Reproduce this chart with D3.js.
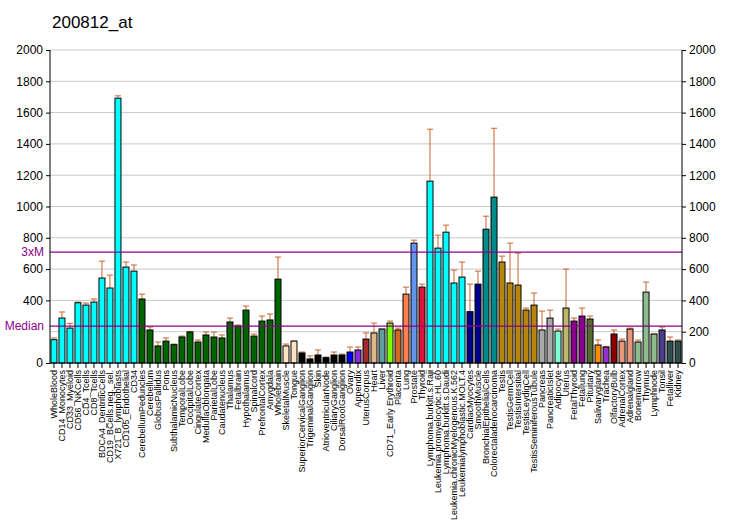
<!DOCTYPE html>
<html>
<head>
<meta charset="utf-8">
<script src="https://cdn.jsdelivr.net/npm/d3@7"></script>
<style>
  body { margin: 0; background: #fff; }
  text { font-family: "Liberation Sans", Arial, sans-serif; }
</style>
</head>
<body>
<div id="graph"></div>
<script>
// Tissue names, in the order they are plotted
const tissues = [
	'WholeBlood', 'CD14_Monocytes', 'CD33_Myeloid', 'CD56_NKCells', 'CD4_Tcells', 'CD8_Tcells',
	'BDCA4_DentriticCells', 'CD19_BCells.neg._sel.', 'X721_B_lymphoblasts', 'CD105_Endothelial', 'CD34',
	'CerebellumPeduncles', 'Cerebellum', 'GlobusPallidus', 'Pons', 'SubthalamicNucleus', 'TemporalLobe',
	'OccipitalLobe', 'CingulateCortex', 'MedullaOblongata', 'ParietalLobe', 'Caudatenucleus', 'Thalamus',
	'Fetalbrain', 'Hypothalamus', 'Spinalcord', 'PrefrontalCortex', 'Amygdala', 'Wholebrain',
	'SkeletalMuscle', 'Tongue', 'SuperiorCervicalGanglion', 'TrigeminalGanglion', 'Skin',
	'AtrioventricularNode', 'CiliaryGanglion', 'DorsalRootGanglion', 'Ovary', 'Appendix', 'UterusCorpus',
	'Heart', 'Liver', 'CD71_Early Erythroid', 'Placenta', 'Lung', 'Prostate', 'Thyroid',
	'Lymphoma.burkitt.s.Raji', 'Leukemia.promyelocytic.HL.60', 'Lymphoma.burkitt.s.Daudi',
	'Leukemia.chronicMyelogenous.K.562', 'Leukemialymphoblastic.MOLT.4', 'CardiacMyocytes',
	'SmoothMuscle', 'BronchialEpithelialCells', 'Colorectaladenocarcinoma', 'Testis', 'TestisGermCell',
	'TestisIntersitial', 'TestisLeydigCell', 'TestisSeminiferousTubule', 'Pancreas', 'PancreaticIslet',
	'Adipocyte', 'Uterus', 'FetalThyroid', 'Fetallung', 'Pituitary', 'Salivarygland', 'Trachea',
	'OlfactoryBulb', 'AdrenalCortex', 'Adrenalgland', 'Bonemarrow', 'Thymus', 'Lymphnode', 'Tonsil',
	'Fetalliver', 'Kidney'
];

// Mean expression per tissue
const values = [
	149, 287, 223, 385, 370, 389, 543, 479, 1692, 613, 587,
	409, 211, 109, 140, 117, 166, 198, 134, 179, 166, 160, 262, 236, 338, 172, 268, 275, 536,
	109, 140, 64, 26, 51, 34, 51, 51, 70, 83, 153, 192, 217, 255, 211, 440, 766, 485,
	1162, 734, 836, 511, 549, 328, 504, 855, 1060, 645, 511, 498, 338, 370, 211, 287,
	204, 351, 268, 300, 281, 115, 102, 185, 140, 217, 134, 453, 185, 211, 140, 140
];

// Top of the error whisker per tissue
const errTops = [
	160, 326, 253, 389, 383, 409, 651, 562, 1707, 645, 626,
	440, 230, 134, 160, 121, 172, 202, 147, 198, 198, 179, 287, 243, 364, 185, 300, 313, 677,
	121, 140, 70, 45, 83, 38, 70, 57, 102, 102, 192, 255, 217, 268, 223, 485, 785, 504,
	1494, 817, 881, 594, 645, 504, 587, 938, 1500, 683, 766, 702, 351, 447, 332, 338,
	217, 600, 287, 351, 300, 147, 106, 211, 153, 223, 147, 517, 185, 230, 166, 147
];

// Bar fill per tissue
const colors = [
	...Array(11).fill('#00FFFF'),
	...Array(18).fill('#006400'),
	'#FFE4C4', '#FFE4C4',
	...Array(6).fill('#000000'),
	'#0000FF', '#8A2BE2', '#A52A2A', '#DEB887', '#5F9EA0', '#7FFF00', '#D2691E', '#FF7F50', '#6495ED', '#DC143C',
	...Array(5).fill('#00FFFF'),
	'#00008B', '#00008B', '#008B8B', '#008B8B',
	...Array(5).fill('#B8860B'),
	'#A9A9A9', '#A9A9A9', '#7FFFD4', '#BDB76B', '#8B008B', '#8B008B', '#556B2F', '#FF8C00', '#9932CC',
	'#8B0000', '#E9967A', '#E9967A', '#8FBC8F', '#8FBC8F', '#8FBC8F', '#483D8B', '#2F4F4F', '#2F4F4F'
];

const yTicks = [0, 200, 400, 600, 800, 1000, 1200, 1400, 1600, 1800, 2000];
// the left axis leaves out 200, where the Median label sits
const yTicksLeft = [0, 400, 600, 800, 1000, 1200, 1400, 1600, 1800, 2000];
const refLines = [{ label: '3xM', value: 709 }, { label: 'Median', value: 236 }];

const margin = { top: 50, right: 50, bottom: 167, left: 50 },
	width = 732 - margin.left - margin.right,
	height = 530 - margin.top - margin.bottom;

const svg = d3
	.select('#graph')
	.append('svg')
	.attr('width', 732)
	.attr('height', 530);

// Title
svg
	.append('text')
	.attr('x', 52)
	.attr('y', 28)
	.attr('font-size', 17)
	.text('200812_at');

const g = svg.append('g').attr('transform', `translate(${margin.left}, ${margin.top})`);

const x = d3.scaleBand().domain(tissues).range([0, width]).paddingInner(0.25).paddingOuter(0.12);
const y = d3.scaleLinear().domain([0, 2000]).range([height, 0]);

// Gridlines
g.selectAll('.grid')
	.data(yTicks.slice(1))
	.join('line')
	.attr('x1', 0)
	.attr('x2', width)
	.attr('y1', (d) => y(d))
	.attr('y2', (d) => y(d))
	.attr('stroke', '#c8c8c8')
	.attr('stroke-width', 1);

// Error whiskers
const err = g.selectAll('.err').data(tissues).join('g');
err.append('line')
	.attr('x1', (d) => x(d) + x.bandwidth() / 2)
	.attr('x2', (d) => x(d) + x.bandwidth() / 2)
	.attr('y1', (d, i) => y(values[i]))
	.attr('y2', (d, i) => y(errTops[i]))
	.attr('stroke', '#C8642D');
err.append('line')
	.attr('x1', (d) => x(d) + x.bandwidth() / 2 - 3)
	.attr('x2', (d) => x(d) + x.bandwidth() / 2 + 3)
	.attr('y1', (d, i) => y(errTops[i]))
	.attr('y2', (d, i) => y(errTops[i]))
	.attr('stroke', '#C8642D');

// Bars
g.selectAll('.bar')
	.data(tissues)
	.join('rect')
	.attr('x', (d) => x(d))
	.attr('width', x.bandwidth())
	.attr('y', (d, i) => y(values[i]))
	.attr('height', (d, i) => height - y(values[i]))
	.attr('fill', (d, i) => colors[i])
	.attr('stroke', '#000')
	.attr('stroke-width', 1);

// Reference lines (3xM, Median)
refLines.forEach((r) => {
	g.append('line')
		.attr('x1', 0)
		.attr('x2', width)
		.attr('y1', y(r.value))
		.attr('y2', y(r.value))
		.attr('stroke', '#8B008B')
		.attr('stroke-width', 1.2);
	g.append('text')
		.attr('x', -6)
		.attr('y', y(r.value) + 4)
		.attr('text-anchor', 'end')
		.attr('font-size', 12)
		.attr('fill', '#8B008B')
		.text(r.label);
});

// Y axes
const left = g
	.append('g')
	.call(d3.axisLeft(y).tickValues(yTicksLeft).tickFormat(d3.format('d')).tickSize(4).tickPadding(3));
const right = g
	.append('g')
	.attr('transform', `translate(${width}, 0)`)
	.call(d3.axisRight(y).tickValues(yTicks).tickFormat(d3.format('d')).tickSize(4).tickPadding(3));
[left, right].forEach((a) => {
	a.select('.domain').attr('d', `M0,0V${height}`).attr('stroke', '#000');
	a.selectAll('.tick text').attr('font-size', 12).attr('font-family', '"Liberation Sans", Arial, sans-serif');
});

// X axis
const xAxis = g
	.append('g')
	.attr('transform', `translate(0, ${height})`)
	.call(d3.axisBottom(x).tickSize(5).tickPadding(2));
xAxis.select('.domain').attr('d', `M0,0H${width}`).attr('stroke', '#000');
xAxis
	.selectAll('.tick text')
	.attr('font-size', 9)
	.attr('font-family', '"Liberation Sans", Arial, sans-serif')
	.attr('text-anchor', 'end')
	.attr('dx', 0)
	.attr('dy', 0)
	.attr('transform', 'translate(3, 7) rotate(-90)')
	.attr('x', 0)
	.attr('y', 0);
</script>
</body>
</html>
